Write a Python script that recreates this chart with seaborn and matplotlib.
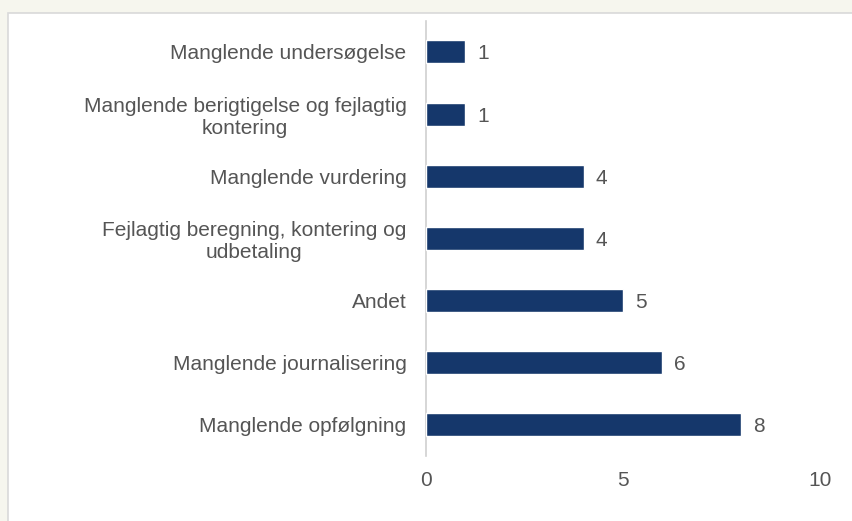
import matplotlib
matplotlib.use("Agg")
import matplotlib.pyplot as plt
from matplotlib.patches import Rectangle
import seaborn as sns
import pandas as pd

# data
categories = [
    "Manglende undersøgelse",
    "Manglende berigtigelse og fejlagtig\nkontering",
    "Manglende vurdering",
    "Fejlagtig beregning, kontering og\nudbetaling",
    "Andet",
    "Manglende journalisering",
    "Manglende opfølgning",
]
counts = [1, 1, 4, 4, 5, 6, 8]
x_ticks = [0, 5, 10]

df = pd.DataFrame({"kategori": categories, "antal": counts})

sns.set_style("white")
plt.rcParams["font.family"] = ["Liberation Sans", "DejaVu Sans"]
text_col = "#555555"
fs = 15

fig = plt.figure(figsize=(8.52, 5.21), dpi=100)
fig.patch.set_facecolor("#f6f6ee")
# white chart area panel with a thin grey edge
fig.patches.append(Rectangle((8 / 852, -0.05), 1.0, 1 - 13 / 521 + 0.05,
                             transform=fig.transFigure, facecolor="white",
                             edgecolor="#d9d9d9", lw=1.2, zorder=0))

ax = fig.add_axes([0.5, 0.125, 0.4625, 0.835])
ax.set_zorder(2)
ax.set_facecolor("none")
sns.barplot(data=df, x="antal", y="kategori", color="#15376b", width=0.37,
            saturation=1, ax=ax, zorder=3)

for i, v in enumerate(counts):
    ax.text(v + 0.3, i, str(v), va="center_baseline", ha="left", fontsize=fs, color=text_col)

ax.set_xlim(0, 10)
ax.set_ylim(6.5, -0.5)
ax.set_xticks(x_ticks)
ax.set_xlabel("")
ax.set_ylabel("")
for s in ["top", "right", "bottom"]:
    ax.spines[s].set_visible(False)
ax.spines["left"].set_color("#d0d0d0")
ax.spines["left"].set_linewidth(1.2)
ax.tick_params(axis="x", length=0, pad=11, labelsize=fs, labelcolor=text_col)
ax.tick_params(axis="y", length=0, pad=14, labelsize=fs, labelcolor=text_col)
for lab in ax.get_yticklabels():
    lab.set_multialignment("center")
    lab.set_linespacing(1.2)

fig.savefig("out.png", dpi=100, facecolor=fig.get_facecolor())
